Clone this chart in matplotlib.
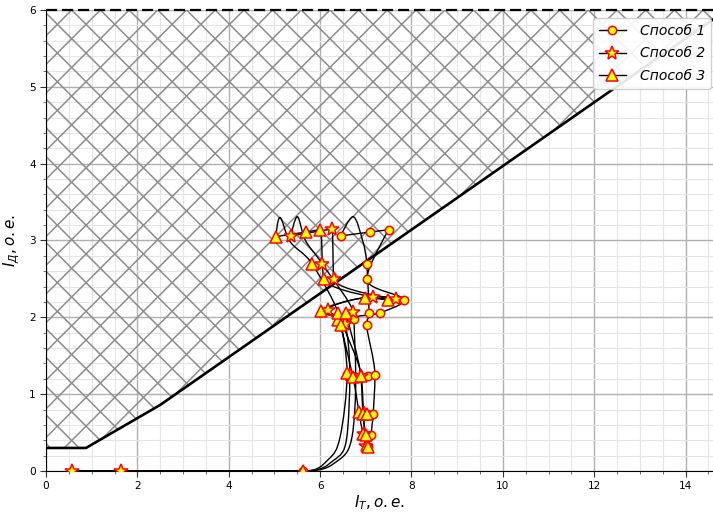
import numpy as np
import matplotlib
matplotlib.use("Agg")
import matplotlib.pyplot as plt
from matplotlib.path import Path
from matplotlib.patches import PathPatch, Polygon
from matplotlib.collections import LineCollection
from matplotlib.lines import Line2D
from matplotlib.ticker import MultipleLocator

# --- Tripping characteristic I_D = f(I_T) ---
char_x = [0.0, 0.875, 2.5, 15.5]
char_y = [0.30, 0.30, 0.86, 6.25]
zone_top = 6.0

# --- Trajectories (line vertices, time ordered) ---
m1_tracks_x = [[0.57, 1.64, 5.62, 6.40, 6.70, 6.78, 6.74, 7.31, 7.83, 7.02, 7.50, 7.09, 6.45, 6.72, 6.93, 7.02, 7.07, 7.02, 7.20, 7.16, 7.11, 7.05]]
m1_tracks_y = [[0.00, 0.00, 0.00, 0.14, 0.45, 1.20, 1.98, 2.06, 2.23, 2.50, 3.14, 3.11, 3.06, 3.31, 3.00, 2.70, 2.06, 1.90, 1.25, 0.74, 0.47, 0.31]]

m2_tracks_x = [[0.57, 1.64, 5.62, 6.30, 6.58, 6.65, 6.54, 6.17, 7.16, 7.66, 6.30, 6.26, 5.36, 5.50, 5.68, 6.04, 6.72, 6.50, 6.90, 6.95, 6.97, 7.00]]
m2_tracks_y = [[0.00, 0.00, 0.00, 0.14, 0.42, 1.25, 1.91, 2.10, 2.27, 2.24, 2.50, 3.15, 3.06, 3.31, 3.00, 2.70, 2.07, 1.93, 1.24, 0.75, 0.48, 0.32]]

m3_tracks_x = [[0.57, 1.64, 5.62, 6.18, 6.44, 6.59, 6.39, 6.02, 6.98, 7.48, 6.08, 6.00, 5.69, 5.03, 5.12, 5.35, 5.82, 6.39, 6.45, 6.72, 6.85, 6.94, 7.02],
               [6.56, 6.89, 6.94, 7.00, 7.05]]
m3_tracks_y = [[0.00, 0.00, 0.00, 0.15, 0.45, 1.27, 1.97, 2.08, 2.25, 2.23, 2.50, 3.14, 3.11, 3.05, 3.30, 2.98, 2.70, 2.06, 1.90, 1.22, 0.77, 0.48, 0.34],
               [2.06, 1.24, 0.74, 0.47, 0.31]]

# --- Marked samples of each method ---
m1_x = [5.62, 7.05, 7.11, 7.16, 7.05, 7.20, 7.02, 6.74, 7.07, 7.31, 7.83, 7.02, 7.02, 6.45, 7.09, 7.50]
m1_y = [0.00, 0.31, 0.47, 0.74, 1.23, 1.25, 1.90, 1.98, 2.06, 2.06, 2.23, 2.50, 2.70, 3.06, 3.11, 3.14]

m2_x = [0.57, 1.64, 7.00, 6.97, 6.95, 6.90, 6.65, 6.50, 6.54, 6.17, 6.72, 7.16, 7.66, 6.30, 6.04, 5.36, 6.26]
m2_y = [0.00, 0.00, 0.32, 0.48, 0.75, 1.24, 1.25, 1.93, 1.91, 2.10, 2.07, 2.27, 2.24, 2.50, 2.70, 3.06, 3.15]

m3_x = [5.62, 7.02, 7.05, 6.94, 7.00, 6.85, 6.94, 7.02, 6.59, 6.72, 6.89, 6.39, 6.45, 6.02, 6.39, 6.56, 6.98, 7.48, 6.08, 5.82, 5.03, 5.69, 6.00]
m3_y = [0.00, 0.34, 0.31, 0.48, 0.47, 0.77, 0.74, 0.74, 1.27, 1.22, 1.24, 1.97, 1.90, 2.08, 2.06, 2.06, 2.25, 2.23, 2.50, 2.70, 3.05, 3.11, 3.14]

labels = ["Способ 1", "Способ 2", "Способ 3"]
xlabel = r"$I_{T}, o.e.$"
ylabel = r"$I_{Д}, o.e.$"


def smooth_path(xs, ys, k=1.0, limit=2.0):
    """Cubic Bezier path through the vertices (Catmull-Rom tangents,
    zeroed at turning points and limited per component to avoid overshoot)."""
    p = np.column_stack([xs, ys]).astype(float)
    n = len(p)
    tang = np.zeros_like(p)
    for i in range(n):
        a = p[max(i - 1, 0)]
        b = p[min(i + 1, n - 1)]
        t = (b - a) / 2.0
        if 0 < i < n - 1:
            d0 = p[i] - p[i - 1]
            d1 = p[i + 1] - p[i]
            t[d0 * d1 <= 0] = 0.0
            cap = limit * np.minimum(np.abs(d0), np.abs(d1))
            t = np.clip(t, -cap, cap)
        tang[i] = t
    verts = [p[0]]
    codes = [Path.MOVETO]
    for i in range(n - 1):
        verts += [p[i] + k * tang[i] / 3.0, p[i + 1] - k * tang[i + 1] / 3.0, p[i + 1]]
        codes += [Path.CURVE4] * 3
    return Path(verts, codes)


W_IN, H_IN, DPI = 7.13, 5.14, 100
fig = plt.figure(figsize=(W_IN, H_IN), dpi=DPI)
ax_left, ax_bottom = 46 / 713, 43 / 514
ax_w, ax_h = 667 / 713, 461 / 514
ax = fig.add_axes([ax_left, ax_bottom, ax_w, ax_h])

ax.set_xlim(0, 14.6)
ax.set_ylim(0, 6)
ax.xaxis.set_major_locator(MultipleLocator(2))
ax.xaxis.set_minor_locator(MultipleLocator(0.5))
ax.yaxis.set_major_locator(MultipleLocator(1))
ax.yaxis.set_minor_locator(MultipleLocator(0.2))
ax.grid(which="major", color="#b0b0b0", lw=1.0, zorder=0)
ax.grid(which="minor", color="#e6e6e6", lw=0.8, zorder=0)
ax.set_axisbelow(True)
ax.tick_params(which="major", labelsize=7.6, length=4, width=0.8, colors="#333333", labelcolor="black")
ax.tick_params(which="minor", length=2.5, width=0.6, colors="#555555")
for s in ("top", "right"):
    ax.spines[s].set_visible(False)

# tripping zone: hatched region above the characteristic
zone = Polygon(list(zip(char_x, char_y)) + [(char_x[-1], zone_top), (char_x[0], zone_top)],
               closed=True, facecolor="none", edgecolor="none")
ax.add_patch(zone)
Wpx, Hpx = ax_w * W_IN * DPI, ax_h * H_IN * DPI
step = 28.7
off = 25.7
segs = []
for kk in range(-40, 40):
    u0 = (off + kk * step) / Wpx
    t = 1500.0
    segs.append([(u0 - t / Wpx, 1 + t / Hpx), (u0 + t / Wpx, 1 - t / Hpx)])
    segs.append([(u0 + t / Wpx, 1 + t / Hpx), (u0 - t / Wpx, 1 - t / Hpx)])
hatch = LineCollection(segs, colors="#8c8c8c", linewidths=1.1, transform=ax.transAxes, zorder=1)
ax.add_collection(hatch)
hatch.set_clip_path(zone)

ax.plot(char_x, char_y, color="black", lw=1.9, zorder=3)
ax.axhline(zone_top, color="black", lw=1.6, ls=(0, (5, 2.2)), zorder=3, clip_on=False)

# trajectories
for txs, tys in [(m1_tracks_x, m1_tracks_y), (m2_tracks_x, m2_tracks_y), (m3_tracks_x, m3_tracks_y)]:
    for xs, ys in zip(txs, tys):
        ax.add_patch(PathPatch(smooth_path(xs, ys), facecolor="none", edgecolor="black", lw=1.0, zorder=4))

mk = dict(ls="none", mfc="yellow", mec="red", mew=1.1, zorder=5)
ax.plot(m1_x, m1_y, marker="o", ms=6.0, **mk)
ax.plot(m2_x, m2_y, marker="*", ms=10.5, **mk)
ax.plot(m3_x, m3_y, marker="^", ms=8.0, **mk)

handles = [Line2D([], [], color="black", lw=1.0, marker=m, ms=s, mfc="yellow", mec="red", mew=1.1)
           for m, s in (("o", 6.0), ("*", 10.5), ("^", 8.0))]
leg = ax.legend(handles, labels, loc="upper right", bbox_to_anchor=(0.997, 0.982),
                prop={"style": "italic", "size": 10}, framealpha=0.9, borderaxespad=0.0,
                handletextpad=1.0, labelspacing=0.62)
leg.set_zorder(10)

ax.set_xlabel(xlabel, fontsize=11, labelpad=1)
ax.set_ylabel(ylabel, fontsize=11, labelpad=5)

fig.savefig("out.png", dpi=DPI)
